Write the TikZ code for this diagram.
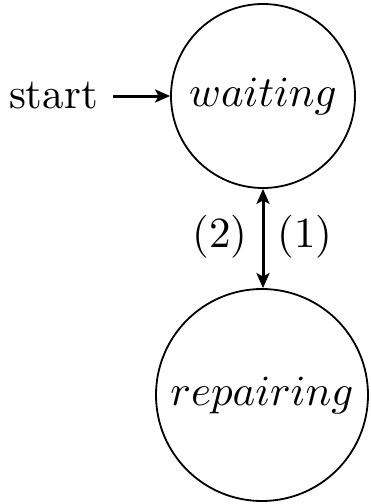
\documentclass[tikz,border=0pt]{standalone}
\usetikzlibrary{arrows.meta}
\newcommand{\enlargetext}[1]{\scalebox{4.3}{#1}}
\begin{document}
\begin{tikzpicture}[x=1pt,y=-1pt,
  state/.style={circle,draw,line width=1.8pt,inner sep=0pt},
  tip/.style={Stealth[length=15pt,width=13pt,inset=3.5pt]},
  trans/.style={line width=3pt,-{Stealth[length=15pt,width=13pt,inset=3.5pt]}}]
\useasboundingbox (0,0) rectangle (370,504);
% states
\node[state,minimum size=184pt] (waiting) at (263,96) {\enlargetext{$waiting$}};
\node[state,minimum size=212pt] (repairing) at (262,395) {\enlargetext{$repairing$}};
% initial marker
\node[anchor=east,inner sep=0pt] (start) at (98,96) {\enlargetext{start}};
\draw[trans] ([xshift=15pt]start.east |- waiting.west) -- (waiting.west);
% two-way transition with its labels
\draw[trans,{Stealth[length=15pt,width=13pt,inset=3.5pt]}-{Stealth[length=15pt,width=13pt,inset=3.5pt]}]
  (waiting.south) -- (waiting.south |- repairing.north);
\node (l2) at (220,237) {\enlargetext{(2)}};
\node (l1) at (305,237) {\enlargetext{(1)}};
\end{tikzpicture}
\end{document}
